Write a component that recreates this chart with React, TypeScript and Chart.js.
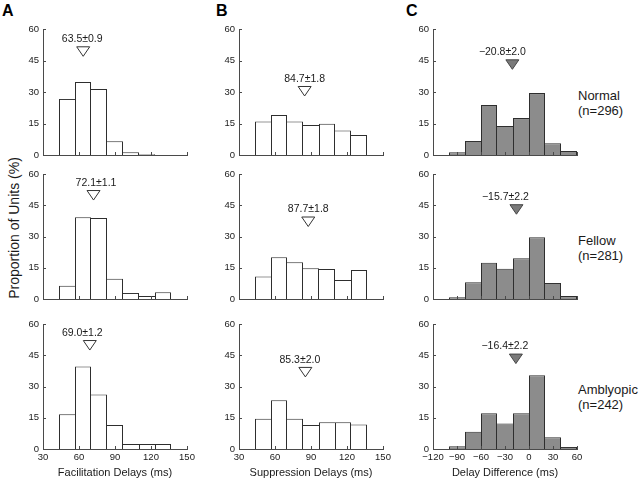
import React, { useEffect, useRef } from 'react';
import { Chart, registerables } from 'chart.js';

Chart.register(...registerables);

const FONT = '"Liberation Sans", Arial, Helvetica, sans-serif';

// ---------- data ----------
const delayBinCenters = [50, 63.333, 76.667, 90, 103.333, 116.667, 130];
const diffBinCenters = [-90, -70, -50, -30, -10, 10, 30, 50];

const facilitationNormal = [26.7, 34.8, 31.4, 6.5, 1.3, 0.3, 0];
const facilitationFellow = [6.4, 39.2, 38.9, 9.7, 2.9, 1.4, 3.2];
const facilitationAmblyopic = [16.7, 39.6, 26.2, 11.5, 2.4, 2.4, 2.4];

const suppressionNormal = [16.0, 19.0, 16.0, 14.3, 14.9, 11.7, 9.5];
const suppressionFellow = [10.8, 20.1, 17.7, 14.8, 14.4, 9.1, 13.9];
const suppressionAmblyopic = [14.5, 23.4, 14.5, 11.5, 12.8, 12.8, 11.8];

const differenceNormal = [1.3, 6.7, 23.8, 13.8, 17.6, 29.5, 5.6, 1.9];
const differenceFellow = [0.8, 8.1, 17.4, 14.5, 19.6, 29.7, 7.7, 1.4];
const differenceAmblyopic = [1.3, 8.3, 17.2, 12.3, 17.2, 35.4, 5.6, 1.0];

const facilitationMeans = [63.5, 72.1, 69.0];
const facilitationMeanLabels = ['63.5±0.9', '72.1±1.1', '69.0±1.2'];
const suppressionMeans = [84.7, 87.7, 85.3];
const suppressionMeanLabels = ['84.7±1.8', '87.7±1.8', '85.3±2.0'];
const differenceMeans = [-20.8, -15.7, -16.4];
const differenceMeanLabels = ['−20.8±2.0', '−15.7±2.2', '−16.4±2.2'];

// value (in % units) of each mean marker's tip
const facilitationMarkerY = [47, 47.5, 47.5];
const suppressionMarkerY = [28.1, 34.8, 34.6];
const differenceMarkerY = [40.8, 40.7, 41];

const yTickValues = [0, 15, 30, 45, 60];
const yTickLabels = ['0', '15', '30', '45', '60'];
const delayTickValues = [30, 60, 90, 120, 150];
const delayTickLabels = ['30', '60', '90', '120', '150'];
const diffTickValues = [-120, -90, -60, -30, 0, 30, 60];
const diffTickLabels = ['−120', '−90', '−60', '−30', '0', '30', '60'];

const groupNames = ['Normal', 'Fellow', 'Amblyopic'];
const groupCounts = ['(n=296)', '(n=281)', '(n=242)'];
const panelLetters = ['A', 'B', 'C'];
const xTitles = ['Facilitation Delays (ms)', 'Suppression Delays (ms)', 'Delay Difference (ms)'];
const yTitle = 'Proportion of Units (%)';

// tables built from the arrays above
const seriesByColumn = [
  [facilitationNormal, facilitationFellow, facilitationAmblyopic],
  [suppressionNormal, suppressionFellow, suppressionAmblyopic],
  [differenceNormal, differenceFellow, differenceAmblyopic],
];
const meansByColumn = [facilitationMeans, suppressionMeans, differenceMeans];
const meanLabelsByColumn = [facilitationMeanLabels, suppressionMeanLabels, differenceMeanLabels];
const markerYByColumn = [facilitationMarkerY, suppressionMarkerY, differenceMarkerY];
const centersByColumn = [delayBinCenters, delayBinCenters, diffBinCenters];
const xTickValuesByColumn = [delayTickValues, delayTickValues, diffTickValues];
const xTickLabelsByColumn = [delayTickLabels, delayTickLabels, diffTickLabels];

// ---------- layout / style ----------
const COL_AXIS_X = [43, 239, 433];
const PLOT_W = 144;
const ROW_TOP = [29, 174, 324];
const ROW_PLOT_H = [126, 125, 125];
const YW = 34;
const PT = 11;
const PR = 12;
const AXIS = '#4a4a4a';
const TEXT = '#1a1a1a';
const BAR_EDGE = '#2e2e2e';
const LABEL_DX = [
  [-1, 2.5, -7.5],
  [0, 0, -5.5],
  [-10, -11, -11],
];

const innerTicks = {
  id: 'innerTicks',
  afterDraw(chart: any) {
    const { ctx, chartArea, scales } = chart;
    ctx.save();
    ctx.strokeStyle = AXIS;
    ctx.lineWidth = 1;
    ctx.beginPath();
    const xs = scales.x;
    const by = Math.round(chartArea.bottom);
    xs.ticks.forEach((t: any) => {
      const px = Math.round(xs.getPixelForValue(t.value)) + 0.5;
      ctx.moveTo(px, by);
      ctx.lineTo(px, by - 3);
    });
    const ys = scales.y;
    const lx = Math.round(chartArea.left);
    ys.ticks.forEach((t: any) => {
      const py = Math.round(ys.getPixelForValue(t.value)) + 0.5;
      ctx.moveTo(lx, py);
      ctx.lineTo(lx + 3, py);
    });
    ctx.stroke();
    ctx.restore();
  },
};

const meanMarker = {
  id: 'meanMarker',
  afterDatasetsDraw(chart: any, _args: any, opts: any) {
    const { ctx, scales } = chart;
    const px = scales.x.getPixelForValue(opts.mean);
    const tip = scales.y.getPixelForValue(opts.tipValue);
    const top = tip - 9.5;
    ctx.save();
    ctx.beginPath();
    ctx.moveTo(px - 6.5, top);
    ctx.lineTo(px + 6.5, top);
    ctx.lineTo(px, tip);
    ctx.closePath();
    ctx.fillStyle = opts.fill;
    ctx.fill();
    ctx.strokeStyle = opts.stroke;
    ctx.lineWidth = 1;
    ctx.stroke();
    ctx.font = `10.5px ${FONT}`;
    ctx.fillStyle = TEXT;
    ctx.textAlign = 'center';
    ctx.textBaseline = 'middle';
    ctx.fillText(opts.label, px + opts.labelDx, top - 7.5);
    ctx.restore();
  },
};

function Panel({ row, col }: { row: number; col: number }) {
  const ref = useRef<HTMLCanvasElement>(null);
  const showX = row === 2;
  const plotH = ROW_PLOT_H[row];
  const xH = showX ? 31 : 2;
  const pb = showX ? 2 : 9;
  const width = YW + PLOT_W + PR;
  const height = PT + plotH + xH + pb;
  const left = COL_AXIS_X[col] - YW;
  const top = ROW_TOP[row] - PT;

  useEffect(() => {
    if (!ref.current) return;
    const isDiff = col === 2;
    const centers = centersByColumn[col];
    const values = seriesByColumn[col][row];
    const xVals = xTickValuesByColumn[col];
    const xLabels = xTickLabelsByColumn[col];
    const chart = new Chart(ref.current, {
      type: 'bar',
      data: {
        datasets: [
          {
            data: centers.map((c, i) => ({ x: c, y: values[i] })),
            backgroundColor: isDiff ? '#8c8c8c' : '#ffffff',
            borderColor: BAR_EDGE,
            // shared edges are drawn once, by the taller neighbour
            borderWidth: (ctx: any) => {
              const i = ctx.dataIndex;
              const v = values[i];
              const prev = i > 0 ? values[i - 1] : -1;
              const next = i < values.length - 1 ? values[i + 1] : -1;
              return { top: 1, left: v >= prev ? 1 : 0, right: v > next ? 1 : 0, bottom: 0 };
            },
            borderSkipped: 'start',
            inflateAmount: 0,
            barPercentage: 1,
            categoryPercentage: 1,
          } as any,
        ],
      },
      options: {
        animation: false,
        responsive: false,
        maintainAspectRatio: false,
        events: [],
        layout: { padding: { top: PT, right: PR, bottom: pb, left: 0 } },
        plugins: {
          legend: { display: false },
          tooltip: { enabled: false },
          title: { display: false },
          meanMarker: {
            mean: meansByColumn[col][row],
            tipValue: markerYByColumn[col][row],
            label: meanLabelsByColumn[col][row],
            labelDx: LABEL_DX[col][row],
            fill: isDiff ? '#7a7a7a' : '#ffffff',
            stroke: isDiff ? '#444444' : '#333333',
          },
        } as any,
        scales: {
          x: {
            type: 'linear',
            min: xVals[0],
            max: xVals[xVals.length - 1],
            offset: false,
            z: 1,
            grid: { display: false, drawOnChartArea: false, drawTicks: false, offset: false },
            border: { display: true, color: AXIS, width: 1 },
            afterBuildTicks: (s: any) => {
              s.ticks = xVals.map((v) => ({ value: v }));
            },
            ticks: {
              display: showX,
              autoSkip: false,
              maxRotation: 0,
              minRotation: 0,
              padding: 3,
              color: TEXT,
              font: { family: FONT, size: 9.5 },
              callback: (v: any) => {
                const i = xVals.indexOf(Number(v));
                return i >= 0 ? xLabels[i] : '';
              },
            },
            title: {
              display: showX,
              text: xTitles[col],
              color: TEXT,
              padding: 0,
              font: { family: FONT, size: 11 },
            },
            afterFit: (s: any) => {
              s.height = xH;
            },
          } as any,
          y: {
            type: 'linear',
            min: 0,
            max: 60,
            z: 1,
            grid: { display: false, drawOnChartArea: false, drawTicks: false },
            border: { display: true, color: AXIS, width: 1 },
            afterBuildTicks: (s: any) => {
              s.ticks = yTickValues.map((v) => ({ value: v }));
            },
            ticks: {
              padding: 4,
              color: TEXT,
              font: { family: FONT, size: 9.5 },
              callback: (v: any) => {
                const i = yTickValues.indexOf(Number(v));
                return i >= 0 ? yTickLabels[i] : '';
              },
            },
            afterFit: (s: any) => {
              s.width = YW;
            },
          } as any,
        },
      },
      plugins: [innerTicks, meanMarker] as any,
    });
    return () => chart.destroy();
  }, [row, col]);

  return (
    <canvas
      ref={ref}
      width={width}
      height={height}
      style={{ position: 'absolute', left, top, width, height }}
    />
  );
}

const LETTER_X = [2, 216, 406];
const GROUP_TOP = [88, 232.5, 381.5];

export default function App() {
  return (
    <div
      style={{
        position: 'absolute',
        left: 0,
        top: 0,
        width: 640,
        height: 481,
        background: '#ffffff',
        overflow: 'hidden',
        fontFamily: FONT,
        color: TEXT,
      }}
    >
      {panelLetters.map((l, i) => (
        <div
          key={l}
          style={{
            position: 'absolute',
            left: LETTER_X[i],
            top: 3,
            fontSize: 16,
            lineHeight: '16px',
            fontWeight: 'bold',
            color: '#000',
          }}
        >
          {l}
        </div>
      ))}
      <div
        style={{
          position: 'absolute',
          left: 14,
          top: 228,
          fontSize: 14,
          lineHeight: '16px',
          whiteSpace: 'nowrap',
          transform: 'translate(-50%, -50%) rotate(-90deg)',
        }}
      >
        {yTitle}
      </div>
      {groupNames.map((g, i) => (
        <div
          key={g}
          style={{
            position: 'absolute',
            left: 578,
            top: GROUP_TOP[i],
            fontSize: 13,
            lineHeight: '15px',
            whiteSpace: 'nowrap',
          }}
        >
          <div>{g}</div>
          <div>{groupCounts[i]}</div>
        </div>
      ))}
      {[0, 1, 2].map((row) =>
        [0, 1, 2].map((col) => <Panel key={`${row}-${col}`} row={row} col={col} />)
      )}
    </div>
  );
}
